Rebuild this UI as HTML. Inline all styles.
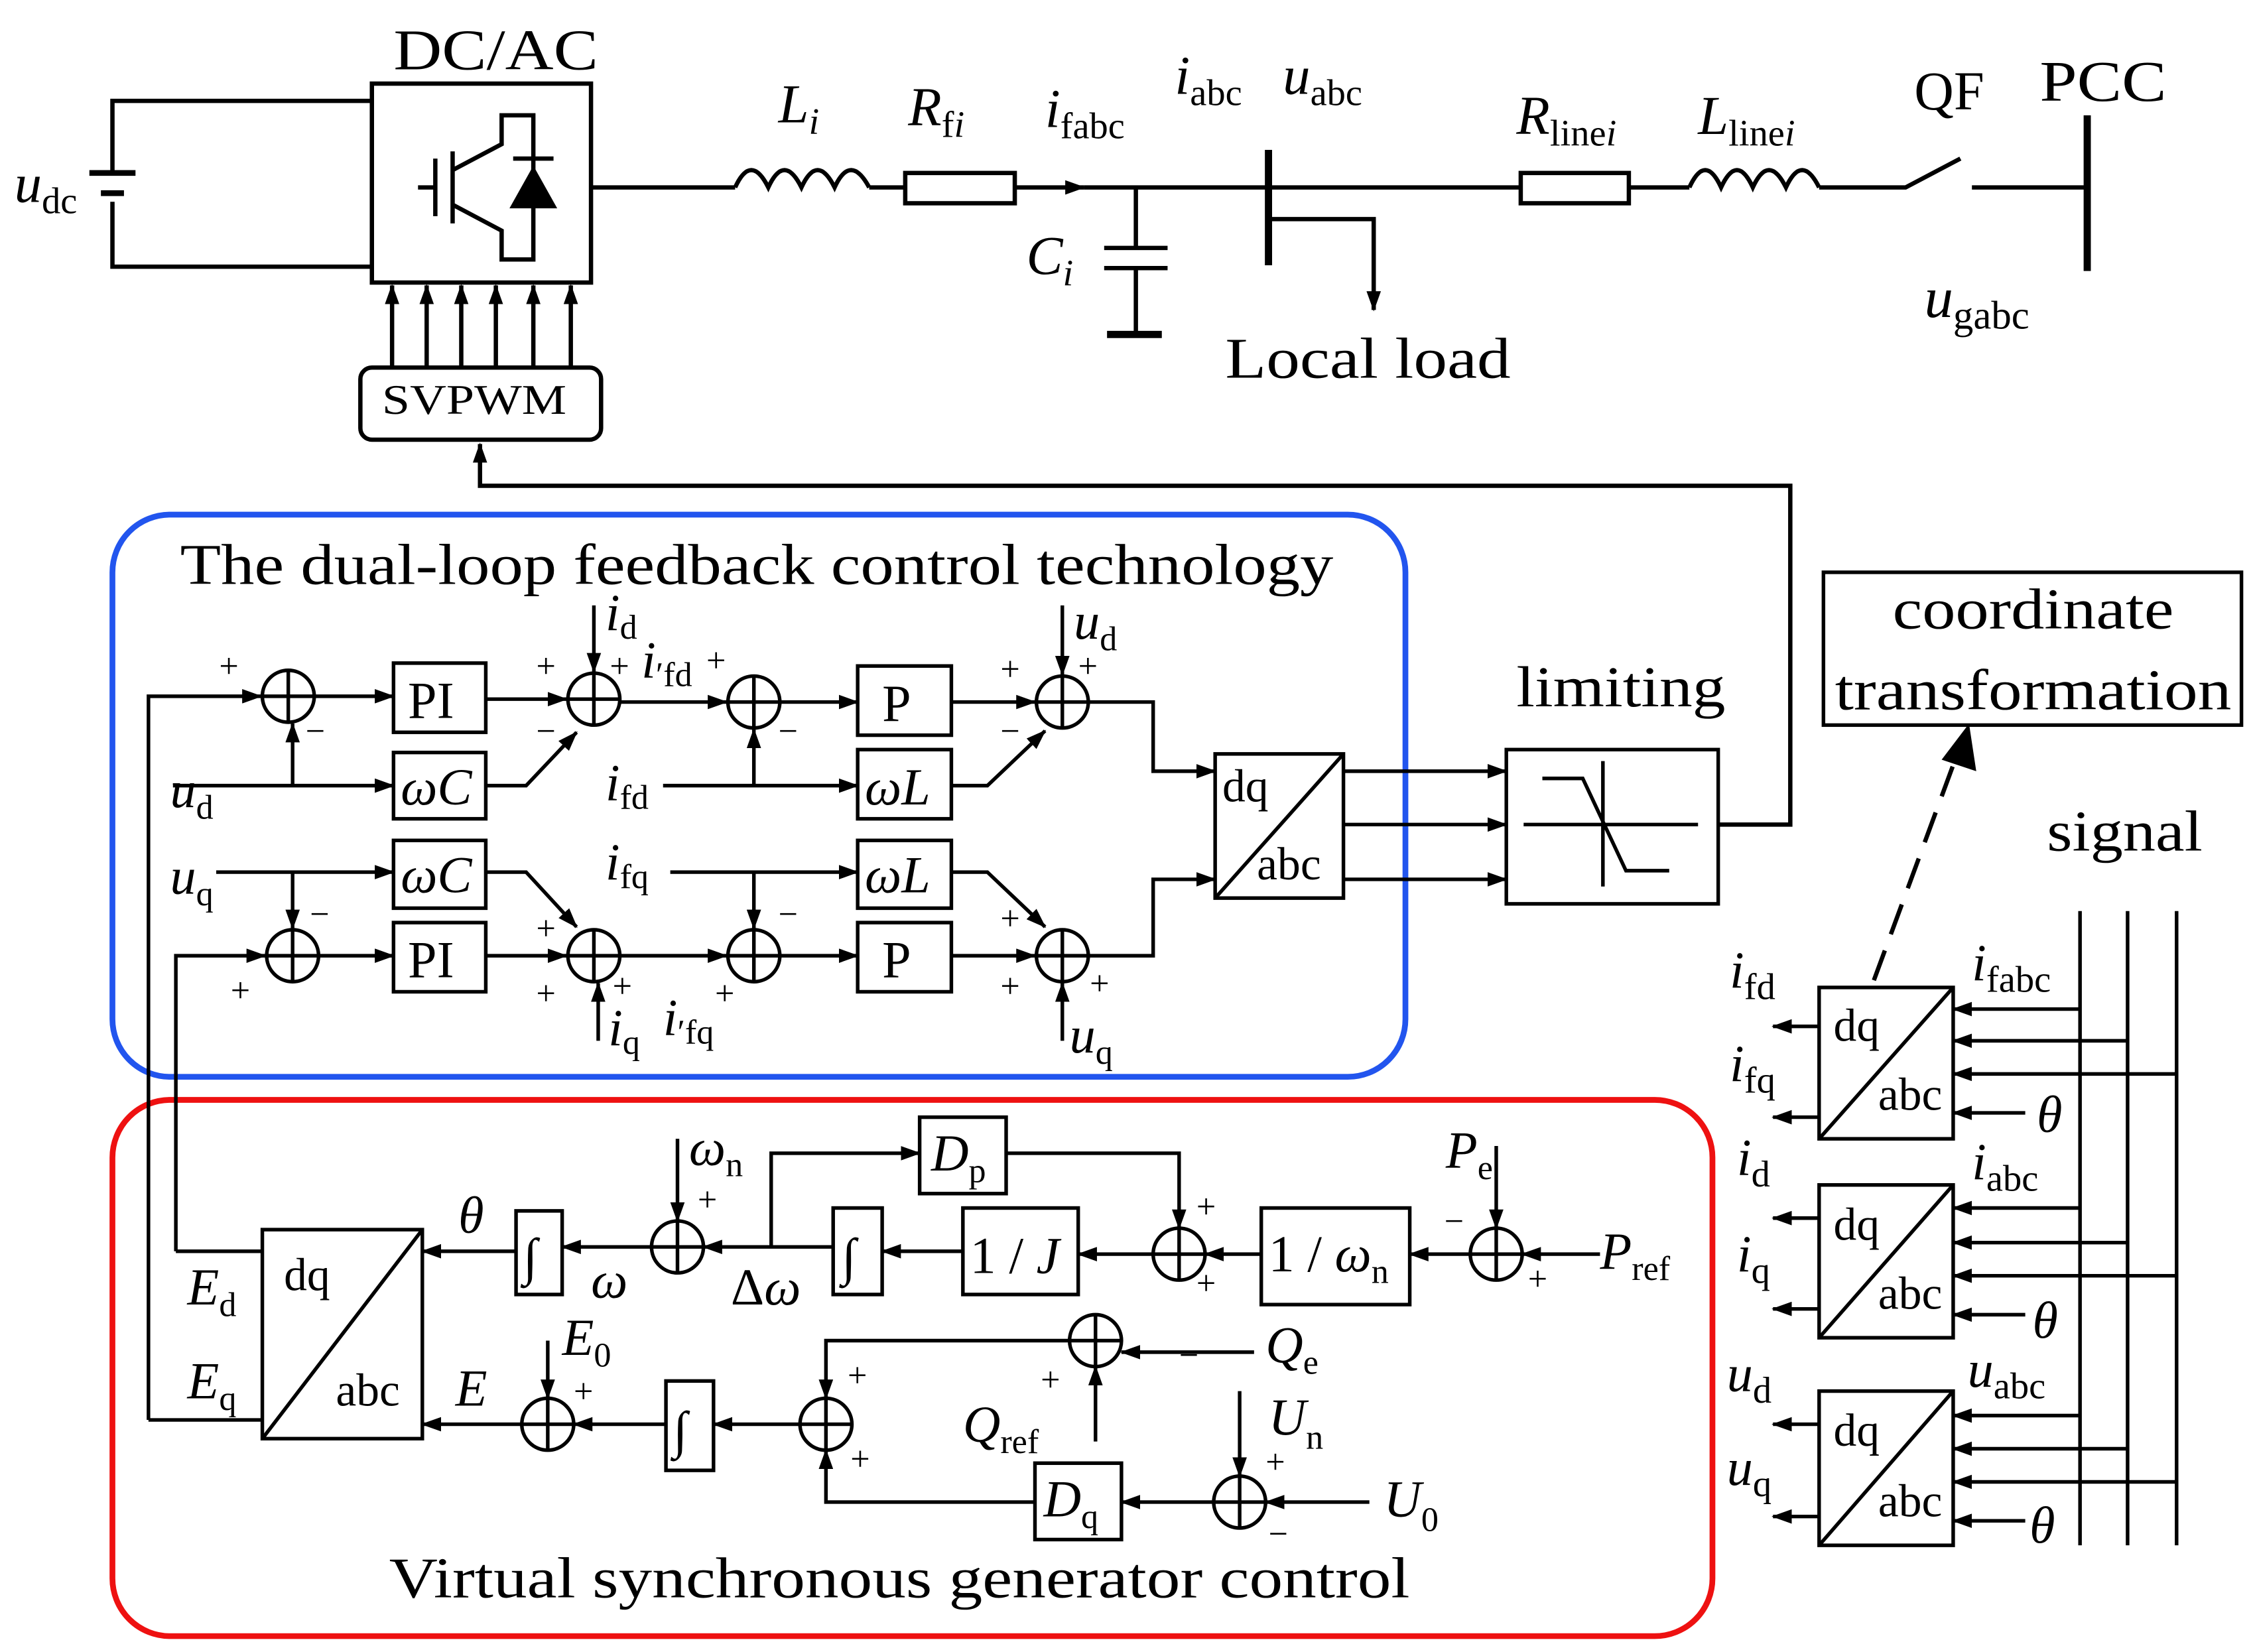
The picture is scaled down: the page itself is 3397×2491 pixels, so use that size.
<!DOCTYPE html>
<html><head><meta charset="utf-8"><style>
html,body{margin:0;padding:0;background:#fff}
svg{display:block}
text{font-family:"Liberation Serif",serif;fill:#000}
.i{font-style:italic}
</style></head><body>
<svg width="3397" height="2491" viewBox="0 0 1563 1146" preserveAspectRatio="none" xmlns="http://www.w3.org/2000/svg">
<defs>
<marker id="a" markerWidth="14" markerHeight="10" refX="13" refY="5" orient="auto" markerUnits="userSpaceOnUse"><path d="M0,0 L14,5 L0,10 z" fill="#000"/></marker>
</defs>
<g stroke="#000" stroke-width="3" fill="none">
<path d="M258,70 H78 V118 M78,140 V185 H258"/>
<path d="M62,120 H94" stroke-width="4"/><path d="M70,134 H86" stroke-width="4"/>
<rect x="258" y="58" width="152" height="138"/>
<path d="M302,110 V150 M290,130 H302 M314,105 V155 M314,118 L348,100 V80 H370 V110 M314,142 L348,160 V180 H370 V150"/>
<path d="M356,110 H384 M370,110 V150"/>
<path d="M356,143 L370,118 L384,143 z" fill="#000"/>
<rect x="250" y="255" width="167" height="50" rx="8"/>
</g>
<g stroke="#000" stroke-width="3" marker-end="url(#a)">
<line x1="272" y1="255" x2="272" y2="198"/><line x1="296" y1="255" x2="296" y2="198"/><line x1="320" y1="255" x2="320" y2="198"/>
<line x1="344" y1="255" x2="344" y2="198"/><line x1="370" y1="255" x2="370" y2="198"/><line x1="396" y1="255" x2="396" y2="198"/>
</g>
<g stroke="#000" stroke-width="3" fill="none">
<path d="M410,130 H510"/>
<path d="M510,130 q11,-24 23,0 q11,-24 23,0 q11,-24 23,0 q11,-24 24,0"/>
<path d="M603,130 H628"/><rect x="628" y="120" width="76" height="21"/>
<path d="M704,130 H752" marker-end="url(#a)"/>
<path d="M752,130 H880"/>
<path d="M788,130 V172 M766,172 H810 M766,186 H810 M788,186 V232"/>
<path d="M768,232 H806" stroke-width="5"/>
<path d="M880,104 V184" stroke-width="5"/>
<path d="M880,152 H953 V215" marker-end="url(#a)"/>
<path d="M880,130 H1055"/><rect x="1055" y="120" width="75" height="21"/>
<path d="M1130,130 H1172"/>
<path d="M1172,130 q11,-24 22,0 q11,-24 22,0 q11,-24 23,0 q11,-24 23,0"/>
<path d="M1262,130 H1322 L1360,110 M1368,130 H1448"/>
<path d="M1448,80 V188" stroke-width="5"/>
<path d="M1192,572 H1242 V337 H333 V308" marker-end="url(#a)"/>
</g>
<text x="273" y="48" font-size="40" textLength="142" lengthAdjust="spacingAndGlyphs">DC/AC</text>
<text x="265" y="287" font-size="29" textLength="128" lengthAdjust="spacingAndGlyphs">SVPWM</text>
<text x="10" y="140" font-size="38" class="i">u<tspan font-size="26" font-style="normal" dy="8">dc</tspan></text>
<text x="540" y="85" font-size="38" class="i">L<tspan font-size="26" dy="8">i</tspan></text>
<text x="630" y="87" font-size="38" class="i">R<tspan font-size="26" font-style="normal" dy="8">f</tspan><tspan font-size="26" dy="0">i</tspan></text>
<text x="725" y="88" font-size="38" class="i">i<tspan font-size="26" font-style="normal" dy="8">fabc</tspan></text>
<text x="815" y="65" font-size="38" class="i">i<tspan font-size="26" font-style="normal" dy="8">abc</tspan></text>
<text x="890" y="65" font-size="38" class="i">u<tspan font-size="26" font-style="normal" dy="8">abc</tspan></text>
<text x="1052" y="93" font-size="38" class="i">R<tspan font-size="26" font-style="normal" dy="8">line</tspan><tspan font-size="26">i</tspan></text>
<text x="1178" y="93" font-size="38" class="i">L<tspan font-size="26" font-style="normal" dy="8">line</tspan><tspan font-size="26">i</tspan></text>
<text x="1328" y="76" font-size="38">QF</text>
<text x="1415" y="70" font-size="40" textLength="88" lengthAdjust="spacingAndGlyphs">PCC</text>
<text x="712" y="190" font-size="38" class="i">C<tspan font-size="26" dy="8">i</tspan></text>
<text x="850" y="262" font-size="40" textLength="198" lengthAdjust="spacingAndGlyphs">Local load</text>
<text x="1335" y="220" font-size="40" class="i">u<tspan font-size="28" font-style="normal" dy="8">gabc</tspan></text>

<rect x="78" y="357" width="897" height="390" rx="40" stroke="#2255ee" stroke-width="4" fill="none"/>
<text x="125" y="405" font-size="40" textLength="800" lengthAdjust="spacingAndGlyphs">The dual-loop feedback control technology</text>
<rect x="78" y="763" width="1110" height="372" rx="40" stroke="#ee1111" stroke-width="4" fill="none"/>
<text x="270" y="1108" font-size="40" textLength="708" lengthAdjust="spacingAndGlyphs">Virtual synchronous generator control</text>

<g stroke="#000" stroke-width="2.5" fill="none">
<rect x="273" y="460" width="64" height="48"/><rect x="273" y="522" width="64" height="46"/>
<rect x="273" y="583" width="64" height="47"/><rect x="273" y="640" width="64" height="48"/>
<rect x="595" y="462" width="65" height="48"/><rect x="595" y="520" width="65" height="48"/>
<rect x="595" y="583" width="65" height="47"/><rect x="595" y="640" width="65" height="48"/>
<rect x="843" y="523" width="89" height="100"/><path d="M843,623 L932,523"/>
<rect x="1045" y="520" width="147" height="107"/>
<path d="M1057,572 H1178 M1112,528 V615 M1070,540 H1098 L1128,604 H1158"/>
<circle cx="200" cy="483" r="18"/><circle cx="412" cy="485" r="18"/><circle cx="523" cy="487" r="18"/><circle cx="737" cy="487" r="18"/>
<circle cx="203" cy="663" r="18"/><circle cx="412" cy="663" r="18"/><circle cx="523" cy="663" r="18"/><circle cx="737" cy="663" r="18"/>
<path d="M182,483 H218 M200,465 V501 M394,485 H430 M412,467 V503 M505,487 H541 M523,469 V505 M719,487 H755 M737,469 V505"/>
<path d="M185,663 H221 M203,645 V681 M394,663 H430 M412,645 V681 M505,663 H541 M523,645 V681 M719,663 H755 M737,645 V681"/>
</g>
<g stroke="#000" stroke-width="2.5" fill="none" marker-end="url(#a)">
<path d="M103,985 V483 H181"/>
<path d="M218,483 H273"/><path d="M337,485 H393"/>
<path d="M337,545 H365 L400,508"/>
<path d="M412,420 V466"/>
<path d="M430,487 H504"/>
<path d="M460,545 H595"/><path d="M523,545 V506"/>
<path d="M541,487 H595"/><path d="M660,487 H718"/>
<path d="M660,545 H685 L725,507"/>
<path d="M737,420 V468"/>
<path d="M755,487 H800 V535 H843"/>
<path d="M120,545 H273"/><path d="M203,545 V502"/>
<path d="M150,605 H273"/><path d="M203,605 V644"/>
<path d="M122,868 V663 H184"/>
<path d="M221,663 H273"/><path d="M337,663 H393"/>
<path d="M337,605 H365 L400,643"/>
<path d="M415,722 V682"/>
<path d="M430,663 H504"/>
<path d="M465,605 H595"/><path d="M523,605 V644"/>
<path d="M541,663 H595"/><path d="M660,663 H718"/>
<path d="M660,605 H685 L725,643"/>
<path d="M737,722 V682"/>
<path d="M755,663 H800 V610 H843"/>
<path d="M932,535 H1045"/><path d="M932,572 H1045"/><path d="M932,610 H1045"/>
</g>
<g font-size="36">
<text x="283" y="498">PI</text><text x="283" y="678">PI</text>
<text x="612" y="500">P</text><text x="612" y="678">P</text>
<text x="278" y="558" class="i">ωC</text><text x="278" y="619" class="i">ωC</text>
<text x="600" y="558" class="i">ωL</text><text x="600" y="619" class="i">ωL</text>
<text x="848" y="556" font-size="32">dq</text><text x="872" y="610" font-size="32">abc</text>
<text x="1052" y="490" font-size="40" textLength="145" lengthAdjust="spacingAndGlyphs">limiting</text>
</g>
<g font-size="24">
<text x="152" y="470">+</text><text x="212" y="515">−</text><text x="372" y="470">+</text><text x="372" y="515">−</text><text x="423" y="470">+</text>
<text x="490" y="466">+</text><text x="540" y="515">−</text><text x="694" y="472">+</text><text x="748" y="470">+</text><text x="694" y="515">−</text>
<text x="215" y="642">−</text><text x="160" y="695">+</text><text x="372" y="652">+</text><text x="372" y="697">+</text><text x="425" y="692">+</text>
<text x="496" y="697">+</text><text x="540" y="642">−</text><text x="694" y="645">+</text><text x="694" y="692">+</text><text x="756" y="690">+</text>
</g>
<g font-size="36" class="i">
<text x="420" y="437">i<tspan font-size="24" font-style="normal" dy="6">d</tspan></text>
<text x="445" y="470">i<tspan font-size="24" font-style="normal" dy="6">′fd</tspan></text>
<text x="745" y="443">u<tspan font-size="24" font-style="normal" dy="8">d</tspan></text>
<text x="118" y="560">u<tspan font-size="24" font-style="normal" dy="8">d</tspan></text>
<text x="420" y="555">i<tspan font-size="24" font-style="normal" dy="6">fd</tspan></text>
<text x="118" y="620">u<tspan font-size="24" font-style="normal" dy="8">q</tspan></text>
<text x="420" y="610">i<tspan font-size="24" font-style="normal" dy="6">fq</tspan></text>
<text x="422" y="725">i<tspan font-size="24" font-style="normal" dy="6">q</tspan></text>
<text x="460" y="718">i<tspan font-size="24" font-style="normal" dy="6">′fq</tspan></text>
<text x="742" y="730">u<tspan font-size="24" font-style="normal" dy="8">q</tspan></text>
</g>

<g stroke="#000" stroke-width="2.5" fill="none">
<rect x="182" y="853" width="111" height="145"/><path d="M182,998 L293,853"/>
<rect x="358" y="840" width="32" height="58"/><rect x="578" y="838" width="34" height="60"/>
<rect x="668" y="838" width="80" height="60"/><rect x="638" y="775" width="60" height="53"/>
<rect x="875" y="838" width="103" height="67"/><rect x="462" y="958" width="33" height="62"/>
<rect x="718" y="1015" width="60" height="53"/>
<circle cx="470" cy="865" r="18"/><circle cx="818" cy="870" r="18"/><circle cx="1038" cy="870" r="18"/>
<circle cx="380" cy="988" r="18"/><circle cx="573" cy="988" r="18"/><circle cx="760" cy="930" r="18"/><circle cx="860" cy="1042" r="18"/>
<path d="M452,865 H488 M470,847 V883 M800,870 H836 M818,852 V888 M1020,870 H1056 M1038,852 V888 M362,988 H398 M380,970 V1006 M555,988 H591 M573,970 V1006 M742,930 H778 M760,912 V948 M842,1042 H878 M860,1024 V1060"/>
<path d="M122,868 H182 M103,985 H182"/>
</g>
<g stroke="#000" stroke-width="2.5" fill="none" marker-end="url(#a)">
<path d="M358,868 H293"/><path d="M452,865 H390"/><path d="M470,790 V847"/>
<path d="M578,865 H488"/><path d="M535,865 V800 H638"/><path d="M668,868 H612"/>
<path d="M698,800 H818 V852"/><path d="M800,870 H748"/><path d="M875,870 H836"/>
<path d="M1020,870 H978"/><path d="M1038,795 V852"/><path d="M1110,870 H1056"/>
<path d="M362,988 H293"/><path d="M380,930 V970"/><path d="M462,988 H398"/>
<path d="M555,988 H495"/><path d="M870,938 H778"/><path d="M742,930 H573 V970"/>
<path d="M760,1000 V948"/><path d="M860,965 V1024"/><path d="M950,1042 H878"/>
<path d="M842,1042 H778"/><path d="M718,1042 H573 V1006"/>
</g>
<g font-size="36">
<text x="197" y="895" font-size="32">dq</text><text x="233" y="975" font-size="32">abc</text>
<text x="363" y="884">∫</text><text x="584" y="884">∫</text><text x="467" y="1004">∫</text>
<text x="673" y="883">1 / <tspan class="i">J</tspan></text>
<text x="880" y="882">1 / <tspan class="i">ω</tspan><tspan font-size="24" dy="8">n</tspan></text>
<text x="646" y="812" class="i">D<tspan font-size="24" font-style="normal" dy="8">p</tspan></text>
<text x="724" y="1052" class="i">D<tspan font-size="24" font-style="normal" dy="8">q</tspan></text>
</g>
<g font-size="36" class="i">
<text x="318" y="855">θ</text><text x="410" y="900">ω</text>
<text x="478" y="808">ω<tspan font-size="24" font-style="normal" dy="8">n</tspan></text>
<text x="507" y="905"><tspan font-style="normal">Δ</tspan>ω</text>
<text x="1003" y="810">P<tspan font-size="24" font-style="normal" dy="8">e</tspan></text>
<text x="1110" y="880">P<tspan font-size="24" font-style="normal" dy="8">ref</tspan></text>
<text x="130" y="905">E<tspan font-size="24" font-style="normal" dy="8">d</tspan></text>
<text x="130" y="970">E<tspan font-size="24" font-style="normal" dy="8">q</tspan></text>
<text x="316" y="975">E</text>
<text x="390" y="940">E<tspan font-size="24" font-style="normal" dy="8">0</tspan></text>
<text x="878" y="945">Q<tspan font-size="24" font-style="normal" dy="8">e</tspan></text>
<text x="668" y="1000">Q<tspan font-size="24" font-style="normal" dy="8">ref</tspan></text>
<text x="880" y="995">U<tspan font-size="24" font-style="normal" dy="10">n</tspan></text>
<text x="960" y="1052">U<tspan font-size="24" font-style="normal" dy="10">0</tspan></text>
</g>
<g font-size="24">
<text x="484" y="840">+</text><text x="830" y="845">+</text><text x="830" y="898">+</text><text x="1002" y="855">−</text><text x="1060" y="895">+</text>
<text x="398" y="973">+</text><text x="588" y="962">+</text><text x="590" y="1020">+</text><text x="722" y="965">+</text><text x="818" y="948">−</text>
<text x="878" y="1022">+</text><text x="880" y="1072">−</text>
</g>

<g stroke="#000" stroke-width="2.5" fill="none">
<rect x="1265" y="397" width="290" height="106"/>
<path d="M1300,680 L1356,528" stroke-dasharray="22,12" stroke-width="3"/>
<path d="M1443,632 V1072 M1476,632 V1072 M1510,632 V1072"/>
<rect x="1262" y="685" width="93" height="105"/><path d="M1262,790 L1355,685"/>
<rect x="1262" y="822" width="93" height="106"/><path d="M1262,928 L1355,822"/>
<rect x="1262" y="965" width="93" height="107"/><path d="M1262,1072 L1355,965"/>
</g>
<path d="M1366,502 L1347,527 L1371,535 z" fill="#000"/>
<g stroke="#000" stroke-width="2.5" fill="none" marker-end="url(#a)">
<path d="M1443,700 H1355"/><path d="M1476,722 H1355"/><path d="M1510,745 H1355"/><path d="M1405,772 H1355"/>
<path d="M1443,838 H1355"/><path d="M1476,862 H1355"/><path d="M1510,885 H1355"/><path d="M1405,912 H1355"/>
<path d="M1443,982 H1355"/><path d="M1476,1005 H1355"/><path d="M1510,1028 H1355"/><path d="M1405,1055 H1355"/>
<path d="M1262,712 H1230"/><path d="M1262,775 H1230"/>
<path d="M1262,845 H1230"/><path d="M1262,908 H1230"/>
<path d="M1262,988 H1230"/><path d="M1262,1052 H1230"/>
</g>
<text x="1313" y="436" font-size="40" textLength="195" lengthAdjust="spacingAndGlyphs">coordinate</text>
<text x="1273" y="492" font-size="40" textLength="275" lengthAdjust="spacingAndGlyphs">transformation</text>
<text x="1420" y="590" font-size="40" textLength="108" lengthAdjust="spacingAndGlyphs">signal</text>
<g font-size="32">
<text x="1272" y="722">dq</text><text x="1303" y="770">abc</text>
<text x="1272" y="860">dq</text><text x="1303" y="908">abc</text>
<text x="1272" y="1003">dq</text><text x="1303" y="1052">abc</text>
</g>
<g font-size="36" class="i">
<text x="1200" y="685">i<tspan font-size="26" font-style="normal" dy="8">fd</tspan></text>
<text x="1200" y="750">i<tspan font-size="26" font-style="normal" dy="8">fq</tspan></text>
<text x="1205" y="815">i<tspan font-size="26" font-style="normal" dy="8">d</tspan></text>
<text x="1205" y="882">i<tspan font-size="26" font-style="normal" dy="8">q</tspan></text>
<text x="1198" y="965">u<tspan font-size="26" font-style="normal" dy="8">d</tspan></text>
<text x="1198" y="1030">u<tspan font-size="26" font-style="normal" dy="8">q</tspan></text>
<text x="1368" y="680">i<tspan font-size="26" font-style="normal" dy="8">fabc</tspan></text>
<text x="1368" y="818">i<tspan font-size="26" font-style="normal" dy="8">abc</tspan></text>
<text x="1365" y="962">u<tspan font-size="26" font-style="normal" dy="8">abc</tspan></text>
<text x="1413" y="785">θ</text><text x="1410" y="928">θ</text><text x="1408" y="1070">θ</text>
</g>
</svg>
</body></html>
